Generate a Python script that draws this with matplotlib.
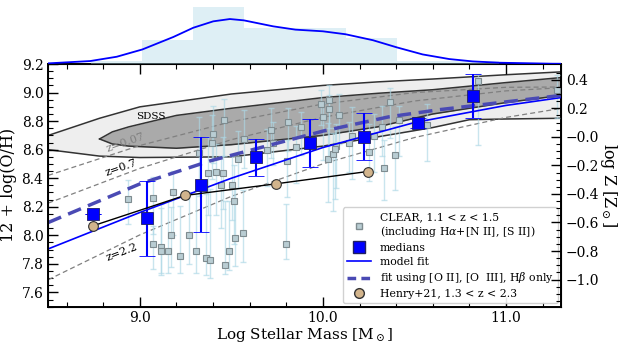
import numpy as np
import matplotlib.pyplot as plt
from matplotlib.lines import Line2D

plt.rcParams['font.family'] = ['DejaVu Serif']
plt.rcParams['mathtext.fontset'] = 'dejavuserif'

# ---- data ----
# CLEAR galaxies: stellar mass, 12+log(O/H), lower / upper errors
clear_mass = [8.935, 9.072, 9.072, 9.114, 9.118, 9.154, 9.168, 9.181, 9.218, 9.266,
              9.309, 9.359, 9.382, 9.414, 9.457, 9.372, 9.443, 9.501, 9.468, 9.486,
              9.517, 9.522, 9.565, 9.80, 9.323, 9.396, 9.399, 9.459, 9.535, 9.57,
              9.695, 9.714, 9.726, 9.81, 9.806, 9.854, 9.881, 9.992, 10.035, 10.035,
              10.0, 10.086, 10.07, 10.026, 10.053, 10.068, 10.14, 10.157, 10.253, 10.277,
              10.323, 10.366, 10.413, 10.395, 10.336, 10.571, 10.845, 11.28]
clear_oh = [8.256, 8.26, 7.936, 7.92, 7.888, 7.888, 8.0, 8.303, 7.855, 8.0,
            7.888, 7.84, 7.824, 8.443, 8.436, 8.44, 8.354, 8.354, 7.79, 7.888,
            8.242, 7.983, 8.016, 7.936, 8.576, 8.645, 8.708, 8.805, 8.534, 8.675,
            8.598, 8.74, 8.645, 8.792, 8.52, 8.617, 8.762, 8.92, 8.95, 8.885,
            8.826, 8.842, 8.629, 8.534, 8.568, 8.603, 8.645, 8.697, 8.583, 8.697,
            8.757, 8.934, 8.806, 8.566, 8.47, 8.773, 9.08, 9.02]
clear_err_lo = [0.18, 0.25, 0.17, 0.2, 0.15, 0.15, 0.22, 0.3, 0.12, 0.2,
                0.15, 0.12, 0.12, 0.3, 0.25, 0.3, 0.3, 0.25, 0.06, 0.13,
                0.3, 0.2, 0.2, 0.1, 0.3, 0.25, 0.2, 0.25, 0.2, 0.2,
                0.25, 0.2, 0.15, 0.2, 0.25, 0.25, 0.2, 0.15, 0.2, 0.35,
                0.3, 0.2, 0.3, 0.3, 0.4, 0.35, 0.2, 0.3, 0.2, 0.25,
                0.2, 0.25, 0.25, 0.25, 0.22, 0.25, 0.45, 0.2]
clear_err_hi = [0.13, 0.15, 0.13, 0.3, 0.3, 0.35, 0.2, 0.15, 0.35, 0.3,
                0.4, 0.45, 0.5, 0.2, 0.25, 0.25, 0.2, 0.2, 0.45, 0.35,
                0.25, 0.35, 0.3, 0.28, 0.25, 0.2, 0.2, 0.15, 0.2, 0.2,
                0.15, 0.15, 0.15, 0.1, 0.15, 0.15, 0.1, 0.1, 0.1, 0.1,
                0.1, 0.15, 0.15, 0.25, 0.15, 0.15, 0.15, 0.2, 0.2, 0.15,
                0.15, 0.1, 0.1, 0.2, 0.2, 0.15, 0.05, 0.1]

# medians
med_mass = [8.745, 9.04, 9.336, 9.632, 9.93, 10.226, 10.522, 10.822]
med_oh = [8.149, 8.118, 8.354, 8.552, 8.645, 8.692, 8.79, 8.976]
med_err_lo = [0.0, 0.26, 0.334, 0.135, 0.163, 0.165, 0.035, 0.156]
med_err_hi = [0.0, 0.264, 0.333, 0.124, 0.168, 0.168, 0.035, 0.152]

# fits
fit_mass = [8.5, 9.0, 9.5, 10.0, 10.5, 11.0, 11.3]
fit_oh = [7.905, 8.16, 8.40, 8.615, 8.79, 8.91, 8.965]
fit_o3_mass = [8.5, 9.0, 9.38, 10.0, 10.36, 10.635, 11.3]
fit_o3_oh = [8.09, 8.36, 8.52, 8.73, 8.83, 8.88, 8.98]

# Henry+21
henry_mass = [8.745, 9.245, 9.745, 10.244]
henry_oh = [8.067, 8.279, 8.361, 8.447]

# MZR curves at other redshifts
mzr_mass = [8.5, 9.0, 9.5, 10.0, 10.5, 11.0, 11.3]
mzr_z007 = [8.420, 8.629, 8.796, 8.920, 9.000, 9.037, 9.039]
mzr_z07 = [8.226, 8.469, 8.670, 8.827, 8.941, 9.012, 9.034]
mzr_z22 = [7.689, 8.003, 8.273, 8.501, 8.685, 8.826, 8.889]

# SDSS contours
sdss_outer_x = [8.5, 8.78, 9.0, 9.5, 10.0, 10.3, 10.6, 10.8, 11.0, 11.3]
sdss_outer_hi = [8.70, 8.82, 8.90, 8.99, 9.05, 9.075, 9.095, 9.11, 9.125, 9.145]
sdss_outer_lo = [8.60, 8.555, 8.545, 8.55, 8.625, 8.69, 8.755, 8.81, 8.815, 8.82]
sdss_inner_x = [8.78, 8.85, 8.94, 9.2, 9.5, 10.0, 10.3, 10.6, 11.0, 11.3]
sdss_inner_hi = [8.675, 8.725, 8.76, 8.84, 8.89, 8.965, 8.995, 9.02, 9.07, 9.105]
sdss_inner_lo = [8.675, 8.64, 8.625, 8.61, 8.635, 8.70, 8.76, 8.85, 8.93, 8.98]

# mass histogram + smoothed curve (top panel)
hist_edges = [8.736, 9.014, 9.292, 9.570, 9.848, 10.126, 10.404, 10.682, 10.960]
hist_counts = [0.8, 6.8, 16, 10, 10, 7.4, 0.8, 0.8]
kde_mass = [8.5, 8.729, 8.874, 9.014, 9.183, 9.292, 9.401, 9.492, 9.568, 9.728,
            9.85, 10.0, 10.124, 10.273, 10.406, 10.545, 10.69, 10.818, 10.963, 11.254, 11.3]
kde_val = [0.19, 0.84, 2.05, 4.1, 7.6, 10.2, 12.0, 12.65, 12.28, 10.6,
           9.67, 9.2, 8.37, 6.7, 4.65, 2.7, 1.4, 0.74, 0.37, 0.09, 0.08]

solar = 8.69

fig = plt.figure(figsize=(6.23, 3.48), dpi=100)
ax = fig.add_axes([0.0775, 0.1187, 0.8228, 0.6973])
axh = fig.add_axes([0.0775, 0.816, 0.8228, 0.184])

# top panel
axh.bar(hist_edges[:-1], hist_counts, width=np.diff(hist_edges), align='edge',
        color='lightblue', alpha=0.4, linewidth=0)
axh.plot(kde_mass, kde_val, color='blue', lw=1.3)
axh.set_xlim(8.5, 11.3)
axh.set_ylim(0, 18)
axh.axis('off')

# SDSS contours
ax.fill_between(sdss_outer_x, sdss_outer_lo, sdss_outer_hi, color='#eeeeee', lw=0, zorder=1)
ax.plot(sdss_outer_x, sdss_outer_hi, color='#333333', lw=1.1, zorder=1.2)
ax.plot(sdss_outer_x, sdss_outer_lo, color='#333333', lw=1.1, zorder=1.2)
ax.fill_between(sdss_inner_x, sdss_inner_lo, sdss_inner_hi, color='#aaaaaa', lw=0, zorder=1.1)
ax.plot(sdss_inner_x, sdss_inner_hi, color='#333333', lw=1.1, zorder=1.2)
ax.plot(sdss_inner_x, sdss_inner_lo, color='#333333', lw=1.1, zorder=1.2)
ax.text(9.06, 8.835, 'SDSS', fontsize=7.5, ha='center', va='center', zorder=2)

for zz in [mzr_z007, mzr_z07, mzr_z22]:
    ax.plot(mzr_mass, zz, color='gray', ls='--', lw=0.9, dashes=(4, 2.5), zorder=2)
ax.text(8.92, 8.65, 'z=0.07', fontsize=8, color='gray', rotation=19, ha='center', va='center', zorder=2)
ax.text(8.90, 8.47, 'z=0.7', fontsize=8, rotation=19, ha='center', va='center', zorder=2)
ax.text(8.90, 7.88, 'z=2.2', fontsize=8, rotation=21, ha='center', va='center', zorder=2)

# CLEAR galaxies
ax.errorbar(clear_mass, clear_oh, yerr=[clear_err_lo, clear_err_hi], fmt='none',
            ecolor='lightblue', elinewidth=1, capsize=2.5, alpha=0.65, zorder=3)
ax.plot(clear_mass, clear_oh, 's', ms=4, mfc='#b9cdd3', mec='#7f8c90', mew=0.8, ls='none', zorder=3.5)

# fits
ax.plot(fit_mass, fit_oh, color='blue', lw=1.2, zorder=4)
ax.plot(fit_o3_mass, fit_o3_oh, color='#4a4ab4', lw=2.5, ls='--', dashes=(4, 2.2), zorder=4)

# medians
ax.errorbar(med_mass, med_oh, yerr=[med_err_lo, med_err_hi], fmt='s', ms=8.5,
            mfc='blue', mec='#202060', mew=0.6, color='blue', elinewidth=1.5,
            capsize=5.5, capthick=1.5, zorder=5)

# Henry+21
ax.plot(henry_mass, henry_oh, color='black', lw=1, zorder=5.5)
ax.errorbar(henry_mass, henry_oh, xerr=0.02, yerr=0.03, fmt='o', ms=7, mfc='tan',
            mec='#333333', mew=0.8, ecolor='black', elinewidth=0.8, zorder=6)

ax.set_xlim(8.5, 11.3)
ax.set_ylim(7.5, 9.2)
ax.set_xticks([9.0, 10.0, 11.0])
ax.set_xticks(np.arange(8.6, 11.3, 0.2), minor=True)
ax.set_yticks(np.arange(7.6, 9.21, 0.2))
ax.set_yticks(np.arange(7.5, 9.2, 0.05), minor=True)
ax.xaxis.set_major_formatter(plt.FormatStrFormatter('%.1f'))
ax.yaxis.set_major_formatter(plt.FormatStrFormatter('%.1f'))
ax.tick_params(which='both', direction='in', top=True, right=False, labelsize=10)
ax.tick_params(which='major', length=7, width=1)
ax.tick_params(which='minor', length=3.5, width=0.8)
ax.tick_params(axis='x', pad=3)
for s in ax.spines.values():
    s.set_linewidth(1.4)
ax.set_xlabel(r'Log Stellar Mass [M$_\odot$]', fontsize=11, labelpad=1)
ax.set_ylabel('12 + log(O/H)', fontsize=11.5, labelpad=3)

ax2 = ax.twinx()
ax2.set_ylim(7.5 - solar, 9.2 - solar)
ax2.set_yticks(np.arange(-1.0, 0.41, 0.2))
ax2.set_yticks(np.arange(-1.15, 0.5, 0.05), minor=True)
ax2.yaxis.set_major_formatter(plt.FuncFormatter(lambda v, p: ('%.1f' % v).replace('-', '\u2212')))
ax2.tick_params(which='both', direction='in', labelsize=10)
ax2.tick_params(which='major', length=7, width=1)
ax2.tick_params(which='minor', length=3.5, width=0.8)
ax2.set_ylabel(r'log Z [Z$_\odot$]', fontsize=11.5, rotation=270, labelpad=14)

handles = [Line2D([], [], marker='s', ms=4, mfc='#b9cdd3', mec='#7f8c90', ls='none'),
           Line2D([], [], marker='s', ms=8.5, mfc='blue', mec='#202060', ls='none'),
           Line2D([], [], color='blue', lw=1.2),
           Line2D([], [], color='#4a4ab4', lw=2.5, ls='--', dashes=(2.5, 1.5)),
           Line2D([], [], marker='o', ms=7, mfc='tan', mec='#333333', ls='none')]
labels = ['CLEAR, 1.1 < z < 1.5\n(including H$\\alpha$+[N II], [S II])', 'medians', 'model fit',
          'fit using [O II], [O  III], H$\\beta$ only', 'Henry+21, 1.3 < z < 2.3']
leg = ax.legend(handles, labels, loc='lower right', fontsize=7.8, handlelength=2.2,
                borderaxespad=0.3, labelspacing=0.35, framealpha=0.9)
leg.get_frame().set_edgecolor('#cccccc')
leg.set_zorder(10)

fig.savefig('out.png', dpi=100)
